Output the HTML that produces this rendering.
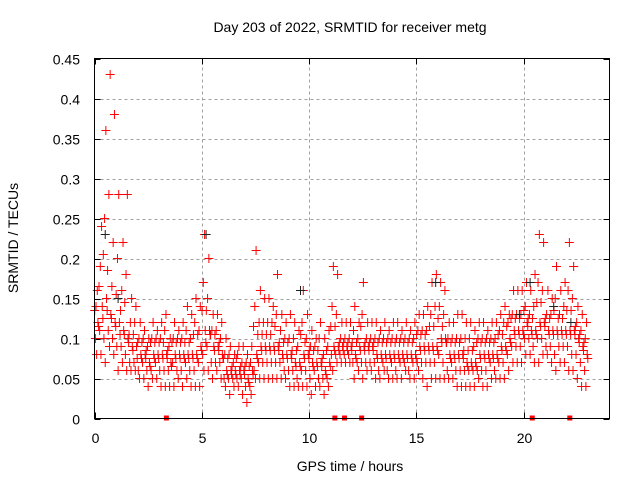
<!DOCTYPE html>
<html><head><meta charset="utf-8">
<style>
html,body{margin:0;padding:0;background:#fff;}
svg{display:block;font-family:"Liberation Sans",sans-serif;}
</style></head>
<body>
<svg id="chart" width="640" height="480" viewBox="0 0 640 480" xmlns="http://www.w3.org/2000/svg">
<rect x="0" y="0" width="640" height="480" fill="#fff"/>
<text x="350" y="32" font-size="14" text-anchor="middle">Day 203 of 2022, SRMTID for receiver metg</text>
<text x="350" y="471" font-size="14" text-anchor="middle">GPS time / hours</text>
<text x="0" y="0" font-size="14" text-anchor="middle" transform="translate(18,238) rotate(-90)">SRMTID / TECUs</text>
<g id="grid"></g><g id="ticks"></g><g id="marks"></g><g id="flags"></g>
<rect x="94.5" y="58.5" width="515" height="360" fill="none" stroke="#000" stroke-width="1"/>
</svg>
<script>
// bins every 0.2 h starting at 0 (values in 0.01 TECU)
const binStep = 0.2;
const loVals = [8,8,7,9,8, 6,7,6,6,6, 5,5,4,5,5, 4,4,4,4,5, 4,5,4,4,4, 6,6,5,6,5, 4,3,4,4,3, 2,3,5,5,5, 5,5,5,5,5, 4,4,4,4,4, 3,4,4,3,4, 6,7,7,7,7, 5,6,5,6,6, 5,5,6,5,5, 5,5,6,5,5, 6,5,4,5,5, 5,5,5,5,4, 4,4,4,4,5, 4,4,5,5,5, 5,6,7,7,7, 8,8,7,7,8, 8,7,6,7,7, 6,6,5,4,4];
const q1Vals = [10,11,10,11,10, 9,9,8,7,7, 6,7,6,6,7, 6,6,6,7,6, 6,7,6,6,7, 8,9,7,7,7, 5,5,5,5,5, 4,4,6,7,7, 7,7,7,7,6, 6,6,5,6,6, 5,6,5,5,5, 8,8,8,8,8, 7,7,7,7,7, 7,6,7,6,7, 6,7,7,6,7, 7,7,7,7,7, 8,7,6,7,6, 6,6,6,6,6, 6,6,7,6,7, 7,8,9,9,9, 10,10,9,10,10, 9,9,8,9,9, 9,8,8,7,6];
const s6Vals = [11.5,12.5,13.5,12.5,11.5, 10.5,10.5,9.5,8.5,7.5, 7.5,7.5,6.5,7.5,7.5, 7.5,7.5,6.5,7.5,7.5, 7.5,7.5,7.5,7.5,8.5, 9.5,10.5,8.5,8.5,7.5, 5.5,5.5,5.5,5.5,5.5, 4.5,5.5,7.5,8.5,8.5, 8.5,8.5,8.5,7.5,7.5, 7.5,6.5,6.5,7.5,7.5, 6.5,6.5,6.5,5.5,6.5, 8.5,8.5,8.5,8.5,8.5, 7.5,8.5,8.5,8.5,8.5, 7.5,7.5,7.5,7.5,7.5, 7.5,7.5,7.5,7.5,7.5, 8.5,8.5,8.5,8.5,8.5, 9.5,9.5,7.5,7.5,7.5, 7.5,6.5,6.5,6.5,7.5, 7.5,7.5,7.5,7.5,8.5, 8.5,9.5,10.5,10.5,10.5, 11.5,10.5,10.5,11.5,11.5, 10.5,10.5,10.5,10.5,10.5, 10.5,10.5,9.5,8.5,7.5];
const midVals = [12,14,15,13,12, 12,11,10,9,9, 8,8,7,8,8, 8,8,7,8,8, 8,8,8,8,9, 11,11,9,9,8, 6,6,6,6,6, 5,6,8,9,9, 9,9,9,8,8, 8,7,7,8,8, 7,7,7,6,7, 9,9,9,9,9, 8,9,9,9,9, 8,8,8,8,8, 8,8,8,8,8, 9,9,9,9,9, 10,10,8,8,8, 8,7,7,7,8, 8,8,8,8,9, 9,10,11,11,11, 12,11,11,12,12, 11,11,11,11,11, 11,11,10,9,8];
const s7Vals = [13.5,16.5,20.5,18.5,16.5, 15.5,13.5,14.5,10.5,10.5, 9.5,9.5,8.5,9.5,9.5, 9.5,9.5,8.5,9.5,9.5, 9.5,9.5,9.5,10.5,10.5, 13.5,13.5,10.5,10.5,9.5, 7.5,7.5,6.5,7.5,6.5, 6.5,6.5,11.5,10.5,10.5, 10.5,10.5,11.5,9.5,9.5, 9.5,8.5,8.5,10.5,9.5, 8.5,8.5,8.5,7.5,8.5, 11.5,11.5,9.5,9.5,9.5, 9.5,9.5,11.5,9.5,9.5, 9.5,9.5,9.5,9.5,9.5, 9.5,9.5,9.5,9.5,9.5, 10.5,10.5,10.5,11.5,11.5, 12.5,11.5,9.5,9.5,9.5, 9.5,8.5,8.5,8.5,9.5, 9.5,9.5,9.5,9.5,10.5, 10.5,11.5,12.5,12.5,12.5, 13.5,12.5,12.5,14.5,14.5, 12.5,12.5,13.5,12.5,12.5, 13.5,13.5,11.5,10.5,9.5];
const q2Vals = [14,19,25,28,22, 20,16,18,12,12, 10,10,9,10,10, 10,11,9,10,10, 10,11,10,12,11, 17,15,11,11,10, 8,8,7,8,7, 7,7,14,12,12, 12,12,13,11,10, 10,10,9,12,10, 9,9,10,8,9, 14,13,10,10,10, 11,10,13,10,10, 10,10,10,10,10, 10,10,10,10,10, 11,11,11,13,14, 14,13,10,10,10, 10,10,10,9,10, 10,10,10,10,11, 12,12,13,13,13, 14,13,14,17,16, 13,13,15,13,14, 16,15,12,11,10];
const hiVals = [16,24,36,43,38, 28,22,28,15,14, 12,11,10,12,11, 12,13,10,12,11, 12,14,13,15,14, 23,20,13,13,12, 10,9,8,9,9, 8,9,21,16,15, 15,14,18,13,12, 13,12,11,16,13, 11,10,12,10,11, 19,18,12,12,12, 14,12,17,12,12, 12,11,12,11,12, 12,11,12,11,12, 13,13,14,17,18, 17,16,12,12,13, 13,12,12,11,12, 12,11,12,12,13, 14,13,16,16,16, 17,16,18,23,22, 16,15,19,16,17, 22,19,14,13,12];
const blackTimes = [0.5,1.1,5.2,9.6,15.9,19.8,20.3,21.4,22.2];
const blackVals = [0.23,0.15,0.23,0.16,0.17,0.13,0.17,0.14,0.12];
const flagTimes = [3.35,11.2,11.65,12.45,20.4,22.15];
const yTicks = [0,0.05,0.1,0.15,0.2,0.25,0.3,0.35,0.4,0.45];
const yTickLabels = ["0","0.05","0.1","0.15","0.2","0.25","0.3","0.35","0.4","0.45"];
const xTicks = [0,5,10,15,20];
const xTickLabels = ["0","5","10","15","20"];

const X0=94.5, X1=609.5, Y0=418.5, Y1=58.5, XMAX=24, YMAX=0.45;
const xs = t => X0 + (t/XMAX)*(X1-X0);
const ys = v => Y0 - (v/YMAX)*(Y0-Y1);
const NS="http://www.w3.org/2000/svg";
function mk(tag, attrs, parent){const e=document.createElementNS(NS,tag);for(const k in attrs)e.setAttribute(k,attrs[k]);parent.appendChild(e);return e;}
const grid=document.getElementById('grid'), ticks=document.getElementById('ticks'), marks=document.getElementById('marks'), flags=document.getElementById('flags');

yTicks.forEach((v,i)=>{
  const y=Math.round(ys(v))+0.5;
  if(i>0 && i<yTicks.length-1){
    const g=mk('line',{x1:X0,x2:X1,y1:y,y2:y,stroke:'#a0a0a0','stroke-dasharray':'3,3'},grid);
    
    
  }
  mk('line',{x1:X0,x2:X0+6,y1:y,y2:y,stroke:'#000'},ticks);
  mk('line',{x1:X1-6,x2:X1,y1:y,y2:y,stroke:'#000'},ticks);
  const t=mk('text',{x:80,y:y+5,'font-size':14,'text-anchor':'end'},ticks);
  t.textContent=yTickLabels[i];
  
  
});
xTicks.forEach((h,i)=>{
  const x=Math.round(xs(h))+0.5;
  if(i>0){
    const g=mk('line',{x1:x,x2:x,y1:Y0,y2:Y1,stroke:'#a0a0a0','stroke-dasharray':'3,3'},grid);
    
    
  }
  mk('line',{x1:x,x2:x,y1:Y0,y2:Y0-6,stroke:'#000'},ticks);
  mk('line',{x1:x,x2:x,y1:Y1,y2:Y1+6,stroke:'#000'},ticks);
  const t=mk('text',{x:x,y:443,'font-size':14,'text-anchor':'middle'},ticks);
  t.textContent=xTickLabels[i];
  
  
});

function plus(t,v,color,name){
  const x=xs(t), y=ys(v);
  const p=mk('path',{d:`M${x-4.5} ${y}H${x+4.5}M${x} ${y-4.5}V${y+4.5}`,stroke:color,'stroke-width':1,fill:'none'},marks);
  
  
}
const seriesList=[[loVals,0.10],[q1Vals,0.04],[s6Vals,0.19],[midVals,0.16],[s7Vals,0.01],[q2Vals,0.07],[hiVals,0.13]];
for(let i=0;i<hiVals.length;i++){
  seriesList.forEach(([arr,off])=>{ plus(i*binStep+off, arr[i]/100, '#ff0000','srmtid-point'); });
}
blackTimes.forEach((t,i)=>plus(t,blackVals[i],'#202020','srmtid-point-black'));
flagTimes.forEach(t=>{
  const r=mk('rect',{x:xs(t)-2.5,y:Y0-3,width:5,height:5,fill:'#ff0000'},flags);
  
  
});
</script>
</body></html>
